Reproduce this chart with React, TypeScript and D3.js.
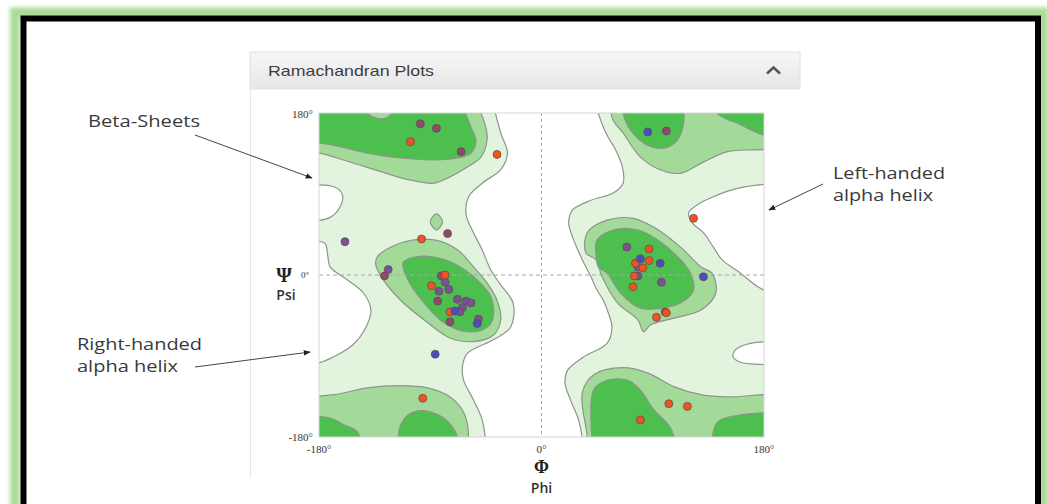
import React from "react";
import * as d3 from "d3";

const width = 1047;
const height = 504;
const plot = { left: 319, right: 764, top: 113, bottom: 437 };

const axisTicks = [-180, 0, 180];

// residues as [phi, psi], one array per colour
const orangeResidues = [
  [-106, 148], [-36, 134], [-97, 40], [-78, 0], [-89, -12], [-74, -41], [-96, -137],
  [123, 63], [87, 29], [87, 16], [76, 13], [82, 8], [75, -1], [74, -13],
  [101, -42], [93, -47], [103, -143], [118, -146], [80, -161],
];
const maroonResidues = [
  [-98, 168], [-85, 163], [-65, 137], [-76, 46], [-127, -1], [-81, -1],
  [-84, -29], [-74, -52], [101, 160], [100, -41],
];
const purpleResidues = [
  [-159, 37], [-124, 6], [-78, -8], [-83, -18], [-75, -16], [-68, -27], [-61, -29],
  [-57, -31], [-64, -36], [-66, -41], [-51, -49], [69, 31], [78, 9], [78, -1], [97, -8],
];
const blueResidues = [
  [-70, -40], [-52, -54], [-86, -88], [86, 159], [80, 18], [96, 13], [131, -2],
];

// contour outlines in degrees; "outside" corners close shapes that run off the plot
const outerLeft = {
  pts: [[-41, 200], [-33, 158], [-27.5, 135.5], [-33, 117], [-48, 102], [-59, 87], [-61, 67], [-55, 47],
    [-48, 28], [-41, 5.5], [-33, -11], [-23, -31], [-25, -58], [-39, -72], [-60, -87], [-64, -102],
    [-63, -117], [-55, -139], [-48, -161], [-44, -200]],
  outside: [[-220, -200], [-220, 200]],
};
const outerRight = {
  pts: [[41, 200], [52, 158], [60, 139], [65.5, 120], [66, 102], [58, 91], [40, 83], [25, 72], [22, 58],
    [26, 39], [33, 17], [40, -2], [45, -17], [50, -28], [54, -42], [57, -58], [53, -76], [34, -91],
    [21, -106], [19, -120], [23.5, -139], [30, -161], [35, -200]],
  outside: [[220, -200], [220, 200]],
};
const holes = [
  { pts: [[-200, 99], [-168, 98], [-161, 89], [-163, 75.5], [-171, 64], [-200, 58]], outside: [] },
  { pts: [[-200, 36], [-175.5, 35.5], [-173, 22], [-171, 9], [-157, -5.5], [-144, -20], [-138, -39],
    [-142, -58], [-153, -78], [-167, -90], [-179, -97], [-200, -98]], outside: [] },
  { pts: [[200, 103], [161, 97], [139, 87], [126, 78], [119, 69], [122, 58], [131, 47], [139, 31],
    [146, 17], [161, 2], [175, -13], [200, -30]], outside: [] },
  { pts: [[200, -74], [169, -76], [157, -83], [155, -91], [161, -97], [173, -99], [200, -100]], outside: [] },
];
const midRegions = [
  { pts: [[-55, 200], [-45, 164], [-44, 150], [-49, 131], [-60, 120], [-74, 109], [-87, 102],
    [-106, 105.5], [-128, 114], [-155, 125.5], [-180, 135.5], [-200, 137]], outside: [[-200, 200]] },
  { pts: [[-200, -136], [-168, -133], [-141, -125.5], [-114, -123], [-92, -125.5], [-74, -135.5],
    [-64, -150], [-60, -165], [-59, -200]], outside: [[-200, -200]] },
  { pts: [[-133, 20], [-114, 35.5], [-87, 39], [-68, 28], [-55, 9], [-44, -9], [-36, -28], [-33, -50],
    [-39, -67], [-55, -74], [-74, -70], [-92, -53], [-114, -28], [-128, -5.5], [-134, 11]], closed: true },
  { pts: [[-85, 68], [-80, 59], [-85, 50], [-90, 59]], closed: true },
  { pts: [[54, 200], [58, 172], [66, 158], [80, 131], [96, 117], [112.5, 113], [129, 124],
    [150.5, 137], [171.5, 139], [200, 139]], outside: [[200, 200]] },
  { pts: [[37, -200], [37, -180], [33, -131], [42, -111], [66, -103], [86, -109], [107, -124],
    [129, -133], [150.5, -135.5], [180, -133], [200, -133]], outside: [[200, -200]] },
  { pts: [[37, 47], [53, 61], [74, 63], [91, 53], [112.5, 31], [129, 9], [138, 2], [141, -20],
    [129, -39], [107, -48], [88, -55.5], [82.5, -63], [78, -50], [61.5, -31], [49, -2], [44, 17],
    [36, 24.5]], closed: true },
];
const coreRegions = [
  { pts: [[-67, 200], [-57, 164], [-53, 150], [-57, 135.5], [-68, 130], [-87, 128], [-114, 130],
    [-141, 135.5], [-168, 144], [-200, 151]], outside: [[-200, 200]] },
  { pts: [[-117, -200], [-116, -180], [-114, -167], [-108, -155.5], [-100, -151], [-90, -152],
    [-79, -159], [-72, -169], [-68, -180], [-67, -200]], outside: [] },
  { pts: [[-200, -156], [-171, -159], [-159, -167], [-149, -174], [-145, -200]], outside: [[-200, -200]] },
  { pts: [[-112, 14], [-102, 20], [-87, 20], [-71, 13], [-52, -5.5], [-41, -24], [-39, -47], [-45, -59],
    [-60, -63], [-79, -53], [-95, -31], [-108, -5.5]], closed: true },
  { pts: [[66, 200], [66, 180], [72, 161], [86, 144], [99, 141], [110, 150], [115, 169], [114, 200]], outside: [] },
  { pts: [[140, 200], [142, 180], [161, 167], [180, 155.5], [200, 153]], outside: [[200, 200]] },
  { pts: [[42, -200], [42, -128], [53, -117], [70, -117], [80, -128], [91, -150], [104, -169], [111, -200]], outside: [] },
  { pts: [[137, -200], [142, -164], [161, -155.5], [180, -153], [200, -153]], outside: [[200, -200]] },
  { pts: [[45, 39], [58, 50], [78, 50], [94, 39], [112.5, 17], [120.5, 2], [123, -17], [112.5, -31],
    [96, -37], [80, -37], [64, -20], [53, 2], [46, 9], [44, 24.5]], closed: true },
];
// small lobe of the medium band poking into the top-left core
const midLobe = { pts: [[-145, 200], [-142, 182], [-133, 174], [-125, 175], [-120, 182], [-118, 200]], outside: [] };

const lightGreen = "#e3f4de";
const midGreen = "#a3da9a";
const coreGreen = "#4cbf4e";
const edge = "#8c958b";

const residueGroups = [
  { data: maroonResidues, fill: "#8e4a68" },
  { data: purpleResidues, fill: "#7a5193" },
  { data: orangeResidues, fill: "#f0531e" },
  { data: blueResidues, fill: "#4d4cbf" },
];

export default function App() {
  const x = d3.scaleLinear().domain([-180, 180]).range([plot.left, plot.right]);
  const y = d3.scaleLinear().domain([-180, 180]).range([plot.bottom, plot.top]);

  const openLine = d3.line<number[]>().x(d => x(d[0])).y(d => y(d[1])).curve(d3.curveCatmullRom.alpha(0.5));
  const closedLine = d3.line<number[]>().x(d => x(d[0])).y(d => y(d[1])).curve(d3.curveCatmullRomClosed.alpha(0.5));

  const regionPath = (r: any) =>
    r.closed
      ? closedLine(r.pts)
      : openLine(r.pts) + r.outside.map((p: number[]) => `L${x(p[0])},${y(p[1])}`).join("") + "Z";

  const region = (r: any, fill: string, i: number) => (
    <path key={i} d={regionPath(r) as string} fill={fill} stroke={edge} strokeWidth={1.2} />
  );

  const annotation = { fontFamily: "'Open Sans', sans-serif", fontSize: 16, fill: "#3a3a3a" };
  const tick = { fontFamily: "'Liberation Serif', serif", fontSize: 11, fill: "#333" };

  return (
    <svg width={width} height={height} style={{ position: "absolute", left: 0, top: 0 }}>
      <defs>
        <filter id="glow" x="-5%" y="-5%" width="110%" height="110%">
          <feGaussianBlur stdDeviation="2" />
        </filter>
        <linearGradient id="head" x1="0" y1="0" x2="0" y2="1">
          <stop offset="0" stopColor="#f7f7f7" />
          <stop offset="1" stopColor="#e6e6e6" />
        </linearGradient>
        <clipPath id="plotClip">
          <rect x={plot.left} y={plot.top} width={plot.right - plot.left} height={plot.bottom - plot.top} />
        </clipPath>
        <marker id="arrow" viewBox="0 0 10 10" refX="9" refY="5" markerWidth="7" markerHeight="7" orient="auto">
          <path d="M0,1L10,5L0,9z" fill="#222" />
        </marker>
      </defs>

      {/* green glow + black frame */}
      <rect x={15} y={12.5} width={1028} height={600} fill="none" stroke="#a8dc95" strokeWidth={10} filter="url(#glow)" />
      <rect x={23.5} y={18.5} width={1014.5} height={600} fill="#fff" stroke="#000" strokeWidth={6} />

      {/* panel */}
      <rect x={250} y={52} width={550} height={37} fill="url(#head)" stroke="#e2e2e2" />
      <line x1={250.5} x2={250.5} y1={89} y2={478} stroke="#e6e6e6" />
      <text x={268} y={76} fontFamily="'Liberation Sans', Arial, sans-serif" fontSize={14.5} fill="#3d3d3d"
        textLength={166} lengthAdjust="spacingAndGlyphs">Ramachandran Plots</text>
      <path d="M767,73.5L773.5,67.5L780,73.5" fill="none" stroke="#555" strokeWidth={2.6} />

      {/* contours */}
      <g clipPath="url(#plotClip)">
        <rect x={plot.left} y={plot.top} width={plot.right - plot.left} height={plot.bottom - plot.top} fill="#fff" />
        {region(outerLeft, lightGreen, 0)}
        {region(outerRight, lightGreen, 1)}
        {holes.map((h, i) => region(h, "#fff", i + 10))}
        {midRegions.map((r, i) => region(r, midGreen, i + 20))}
        {coreRegions.map((r, i) => region(r, coreGreen, i + 40))}
        {region(midLobe, midGreen, 60)}
        <line x1={x(0)} x2={x(0)} y1={plot.top} y2={plot.bottom} stroke="#a8a8a8" strokeDasharray="3,3" />
        <line x1={plot.left} x2={plot.right} y1={y(0)} y2={y(0)} stroke="#a8a8a8" strokeDasharray="4,3" />
        {residueGroups.map((g, gi) =>
          g.data.map((d, i) => (
            <circle key={`${gi}-${i}`} cx={x(d[0])} cy={y(d[1])} r={4} fill={g.fill}
              stroke="#5a4a55" strokeOpacity={0.7} strokeWidth={1} />
          ))
        )}
      </g>
      <rect x={plot.left} y={plot.top} width={plot.right - plot.left} height={plot.bottom - plot.top}
        fill="none" stroke="#d6d6d6" />

      {/* axis tick labels */}
      {axisTicks.map(t => (
        <text key={`x${t}`} x={x(t)} y={453} textAnchor="middle" {...tick}>{`${t}°`}</text>
      ))}
      <text x={313} y={y(180) + 5} textAnchor="end" {...tick}>180°</text>
      <text x={313} y={y(-180) + 4} textAnchor="end" {...tick}>-180°</text>
      <text x={301} y={y(0) + 3} fontFamily="'Liberation Serif', serif" fontSize={9} fill="#333">{`${axisTicks[1]}°`}</text>

      {/* axis titles */}
      <text x={284} y={282} textAnchor="middle" fontFamily="'Liberation Serif', serif" fontWeight="bold" fontSize={20} fill="#222">Ψ</text>
      <text x={286} y={300} textAnchor="middle" fontFamily="'Open Sans', sans-serif" fontWeight={600} fontSize={14} fill="#333">Psi</text>
      <text x={x(0)} y={473} textAnchor="middle" fontFamily="'Liberation Serif', serif" fontWeight="bold" fontSize={18} fill="#222">Φ</text>
      <text x={x(0)} y={493} textAnchor="middle" fontFamily="'Open Sans', sans-serif" fontWeight={600} fontSize={14} fill="#333">Phi</text>

      {/* annotations */}
      <text x={88} y={127} {...annotation} textLength={112} lengthAdjust="spacingAndGlyphs">Beta-Sheets</text>
      <line x1={195} y1={135} x2={312} y2={178} stroke="#444" strokeWidth={1} markerEnd="url(#arrow)" />

      <text x={833} y={179} {...annotation} textLength={112} lengthAdjust="spacingAndGlyphs">Left-handed</text>
      <text x={833} y={201} {...annotation} textLength={100} lengthAdjust="spacingAndGlyphs">alpha helix</text>
      <line x1={823} y1={184} x2={769} y2={210} stroke="#444" strokeWidth={1} markerEnd="url(#arrow)" />

      <text x={77} y={350} {...annotation} textLength={125} lengthAdjust="spacingAndGlyphs">Right-handed</text>
      <text x={77} y={372} {...annotation} textLength={101} lengthAdjust="spacingAndGlyphs">alpha helix</text>
      <line x1={195} y1={367} x2={310} y2={352} stroke="#444" strokeWidth={1} markerEnd="url(#arrow)" />
    </svg>
  );
}
